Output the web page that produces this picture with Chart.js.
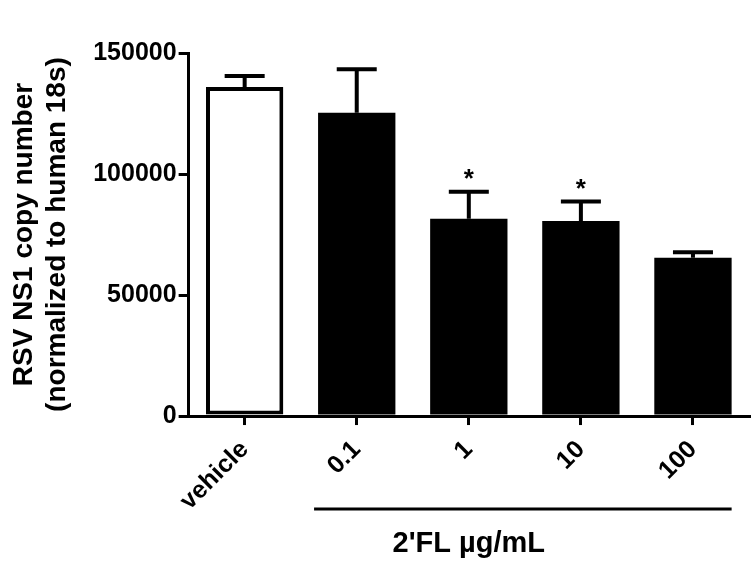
<!DOCTYPE html>
<html>
<head>
<meta charset="utf-8">
<script src="https://cdn.jsdelivr.net/npm/chart.js@4.4.1/dist/chart.umd.min.js"></script>
<style>
  body { margin: 0; background: #fff; }
  #wrap { width: 755px; height: 575px; }
</style>
</head>
<body>
<div id="wrap"><canvas id="ns1Chart" width="755" height="575"></canvas></div>
<script>
// data
const groups = ["vehicle", "0.1", "1", "10", "100"];
const copyNumber = [136000, 125300, 81500, 80600, 65400];
const semErr = [4500, 18000, 11200, 8000, 2300];
const marks = ["", "", "*", "*", ""];
const fills = ["#ffffff", "#000000", "#000000", "#000000", "#000000"];
const outline = [4, 0, 0, 0, 0];
const yTicks = [0, 50000, 100000, 150000];

const FONT = "'Liberation Sans', Arial, Helvetica, sans-serif";

// error bars + asterisks + the 2'FL bracket
const errorBars = {
  id: "errorBars",
  afterDatasetsDraw(chart) {
    const { ctx, scales } = chart;
    const y = scales.y;
    const bars = chart.getDatasetMeta(0).data;
    ctx.save();
    ctx.strokeStyle = "#000";
    ctx.fillStyle = "#000";
    ctx.lineWidth = 4;
    bars.forEach((bar, i) => {
      const top = y.getPixelForValue(copyNumber[i]);
      const cap = y.getPixelForValue(copyNumber[i] + semErr[i]);
      ctx.beginPath();
      ctx.moveTo(bar.x, top);
      ctx.lineTo(bar.x, cap);
      ctx.moveTo(bar.x - 20, cap);
      ctx.lineTo(bar.x + 20, cap);
      ctx.stroke();
      if (marks[i]) {
        ctx.font = "bold 26px " + FONT;
        ctx.textAlign = "center";
        ctx.textBaseline = "middle";
        ctx.fillText(marks[i], bar.x, cap - 12);
      }
    });
    // bracket under the 2'FL doses
    const first = bars[1], last = bars[4];
    ctx.lineWidth = 3;
    ctx.beginPath();
    ctx.moveTo(first.x - first.width / 2 - 4, 509);
    ctx.lineTo(last.x + last.width / 2, 509);
    ctx.stroke();
    ctx.restore();
  },
};

const chart = new Chart(document.getElementById("ns1Chart"), {
  type: "bar",
  data: {
    labels: groups,
    datasets: [
      {
        data: copyNumber,
        backgroundColor: fills,
        borderColor: "#000",
        borderWidth: outline,
        borderSkipped: false,
        barPercentage: 0.69,
        categoryPercentage: 1,
      },
    ],
  },
  options: {
    responsive: false,
    animation: false,
    events: [],
    layout: { padding: { top: 53, right: 6, left: 4, bottom: 0 } },
    plugins: {
      legend: { display: false },
      tooltip: { enabled: false },
    },
    scales: {
      x: {
        offset: true,
        grid: {
          offset: false,
          drawOnChartArea: false,
          drawTicks: true,
          tickLength: 9,
          color: "#000",
          lineWidth: 3,
        },
        border: { display: true, color: "#000", width: 3 },
        ticks: {
          color: "#000",
          font: { family: FONT, size: 25, weight: "bold" },
          maxRotation: 45,
          minRotation: 45,
          padding: 10,
        },
        title: {
          display: true,
          text: "2'FL \u00b5g/mL",
          color: "#000",
          font: { family: FONT, size: 29, weight: "bold", lineHeight: 1.2 },
          padding: { top: 0, bottom: 14 },
        },
      },
      y: {
        min: 0,
        max: 150000,
        afterBuildTicks: (scale) => {
          scale.ticks = yTicks.map((v) => ({ value: v }));
        },
        grid: {
          drawOnChartArea: false,
          drawTicks: true,
          tickLength: 10,
          color: "#000",
          lineWidth: 3,
        },
        border: { display: true, color: "#000", width: 3 },
        ticks: {
          color: "#000",
          font: { family: FONT, size: 25, weight: "bold" },
          padding: 2,
          callback: (v) => String(v),
        },
        title: {
          display: true,
          text: ["RSV NS1 copy number", "(normalized to human 18s)"],
          color: "#000",
          font: { family: FONT, size: 28, weight: "bold", lineHeight: 1.2 },
          padding: { top: 3, bottom: 17 },
        },
      },
    },
  },
  plugins: [errorBars],
});
</script>
</body>
</html>
